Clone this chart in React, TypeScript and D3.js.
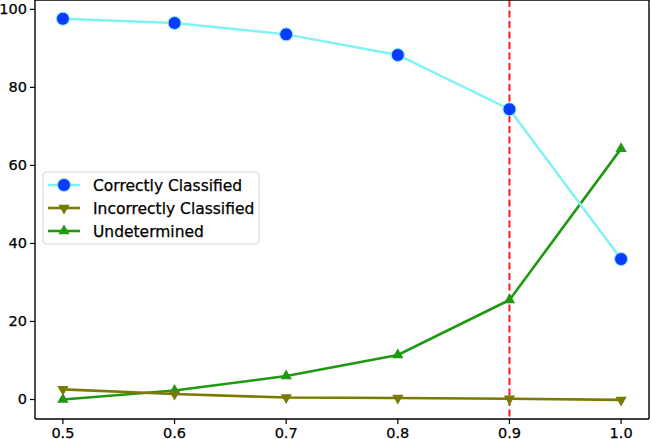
import React from 'react'
import * as d3 from 'd3'

const thresholds = [0.5, 0.6, 0.7, 0.8, 0.9, 1.0]
const correct = [97.6, 96.5, 93.6, 88.3, 74.4, 36.0]
const incorrect = [2.6, 1.4, 0.5, 0.4, 0.2, -0.1]
const undetermined = [0.0, 2.3, 6.0, 11.4, 25.5, 64.3]
const xTicks = [0.5, 0.6, 0.7, 0.8, 0.9, 1.0]
const yTicks = [0, 20, 40, 60, 80, 100]
const cutoff = 0.9

const W = 651
const H = 439
const font = 'DejaVu Sans, sans-serif'

const App = () => {
  // axes box, matplotlib style
  const left = 35
  const right = 649
  const top = 0
  const bottom = 419

  const x = d3.scaleLinear().domain([0.475, 1.025]).range([left, right])
  const y = d3.scaleLinear().domain([-5, 102.4]).range([bottom, top])

  const line = d3
    .line<number>()
    .x((_, i) => x(thresholds[i]))
    .y((d) => y(d))

  const tri = d3.symbol().type(d3.symbolTriangle).size(55)
  const triDown = (cx: number, cy: number) => `translate(${cx},${cy}) rotate(180)`

  const txt = { fill: 'black', stroke: 'black', strokeWidth: 0.25 }

  return (
    <svg
      width={W}
      height={H}
      style={{ position: 'absolute', left: 0, top: 0, background: 'white' }}
      fontFamily={font}
    >
      {/* cutoff line */}
      <line
        x1={x(cutoff)}
        x2={x(cutoff)}
        y1={top}
        y2={bottom}
        stroke="#ff1a1a"
        strokeWidth={2}
        strokeDasharray="7,3.5"
      />

      {/* undetermined */}
      <path d={line(undetermined) || ''} fill="none" stroke="#1f9a10" strokeWidth={2.6} />
      {undetermined.map((v, i) => (
        <path
          key={'u' + i}
          d={tri() || ''}
          transform={`translate(${x(thresholds[i])},${y(v)})`}
          fill="#1f9a10"
        />
      ))}

      {/* incorrect */}
      <path d={line(incorrect) || ''} fill="none" stroke="#7a7a00" strokeWidth={2.6} />
      {incorrect.map((v, i) => (
        <path
          key={'i' + i}
          d={tri() || ''}
          transform={triDown(x(thresholds[i]), y(v))}
          fill="#7a7a00"
        />
      ))}

      {/* correct */}
      <path d={line(correct) || ''} fill="none" stroke="#7ff3f3" strokeWidth={2.4} />
      {correct.map((v, i) => (
        <circle
          key={'c' + i}
          cx={x(thresholds[i])}
          cy={y(v)}
          r={6.5}
          fill="#0a3cff"
          stroke="#7ff3f3"
          strokeWidth={1}
        />
      ))}

      {/* spines */}
      <line x1={left} x2={left} y1={top} y2={bottom} stroke="black" strokeWidth={1.4} />
      <line x1={right} x2={right} y1={top} y2={bottom} stroke="black" strokeWidth={1.4} />
      <line x1={left} x2={right} y1={bottom} y2={bottom} stroke="black" strokeWidth={1.4} />
      <line x1={left} x2={right} y1={top} y2={top} stroke="black" strokeWidth={1.4} />

      {/* x ticks */}
      {xTicks.map((t) => (
        <g key={'xt' + t}>
          <line x1={x(t)} x2={x(t)} y1={bottom} y2={bottom + 5} stroke="black" strokeWidth={1.2} />
          <text x={x(t)} y={bottom + 19} textAnchor="middle" fontSize={14.5} {...txt}>
            {t.toFixed(1)}
          </text>
        </g>
      ))}

      {/* y ticks */}
      {yTicks.map((t) => (
        <g key={'yt' + t}>
          <line x1={left - 5} x2={left} y1={y(t)} y2={y(t)} stroke="black" strokeWidth={1.2} />
          <text x={left - 8} y={y(t) + 5} textAnchor="end" fontSize={14.5} {...txt}>
            {t}
          </text>
        </g>
      ))}

      {/* legend */}
      <g>
        <rect
          x={43}
          y={172}
          width={216}
          height={72}
          rx={4}
          fill="white"
          fillOpacity={0.8}
          stroke="#d6d6d6"
          strokeWidth={1}
        />
        <line x1={48} x2={80} y1={185} y2={185} stroke="#7ff3f3" strokeWidth={2.4} />
        <circle cx={64} cy={185} r={6.5} fill="#0a3cff" stroke="#7ff3f3" strokeWidth={1} />
        <text x={93} y={190.5} fontSize={15.5} {...txt}>Correctly Classified</text>

        <line x1={48} x2={80} y1={208} y2={208} stroke="#7a7a00" strokeWidth={2.6} />
        <path d={tri() || ''} transform={triDown(64, 208)} fill="#7a7a00" />
        <text x={93} y={213.5} fontSize={15.5} {...txt}>Incorrectly Classified</text>

        <line x1={48} x2={80} y1={231} y2={231} stroke="#1f9a10" strokeWidth={2.6} />
        <path d={tri() || ''} transform={`translate(64,231)`} fill="#1f9a10" />
        <text x={93} y={236.5} fontSize={15.5} {...txt}>Undetermined</text>
      </g>
    </svg>
  )
}

export default App
